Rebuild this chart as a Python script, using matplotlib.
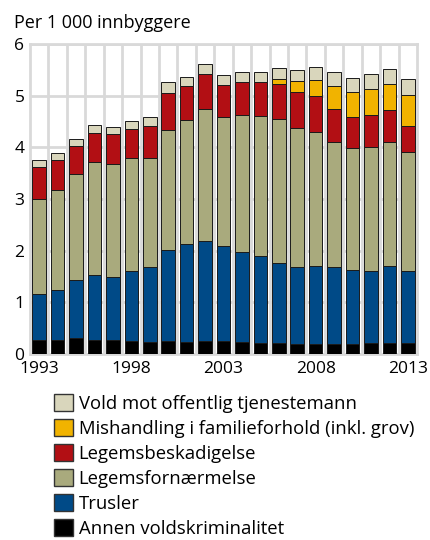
import numpy as np
import matplotlib
matplotlib.use("Agg")
import matplotlib.pyplot as plt
from matplotlib.patches import Patch

plt.rcParams['font.family'] = ['Open Sans', 'DejaVu Sans']

# Data (per 1 000 innbyggere)
years = list(range(1993, 2014))
annen = [0.28, 0.28, 0.31, 0.27, 0.27, 0.25, 0.24, 0.26, 0.24, 0.26, 0.25,
         0.23, 0.21, 0.21, 0.19, 0.20, 0.20, 0.19, 0.21, 0.21, 0.21]
trusler = [0.88, 0.96, 1.12, 1.25, 1.22, 1.35, 1.44, 1.75, 1.89, 1.93, 1.84,
           1.74, 1.69, 1.56, 1.49, 1.51, 1.48, 1.44, 1.40, 1.50, 1.40]
legemsfornaermelse = [1.84, 1.93, 2.06, 2.20, 2.19, 2.19, 2.11, 2.33, 2.39, 2.55, 2.50,
                      2.66, 2.71, 2.77, 2.70, 2.59, 2.43, 2.35, 2.40, 2.40, 2.30]
legemsbeskadigelse = [0.62, 0.58, 0.54, 0.55, 0.57, 0.56, 0.62, 0.72, 0.66, 0.67, 0.62,
                      0.63, 0.65, 0.69, 0.70, 0.69, 0.64, 0.60, 0.61, 0.61, 0.50]
mishandling = [0, 0, 0, 0, 0, 0, 0, 0, 0, 0, 0,
               0, 0, 0.09, 0.20, 0.32, 0.44, 0.50, 0.50, 0.50, 0.60]
vold_tjenestemann = [0.14, 0.15, 0.14, 0.16, 0.15, 0.16, 0.18, 0.20, 0.19, 0.20, 0.19,
                     0.19, 0.19, 0.21, 0.22, 0.24, 0.27, 0.27, 0.30, 0.30, 0.31]

labels = ['Annen voldskriminalitet', 'Trusler', 'Legemsfornærmelse',
          'Legemsbeskadigelse', 'Mishandling i familieforhold (inkl. grov)',
          'Vold mot offentlig tjenestemann']
colors = ['#000000', '#004a87', '#a9aa7d', '#b20f14', '#f1b300', '#d9d6bc']
series = [annen, trusler, legemsfornaermelse, legemsbeskadigelse,
          mishandling, vold_tjenestemann]

fig = plt.figure(figsize=(4.3, 5.4), dpi=100)
ax = fig.add_axes([0.0698, 0.3444, 0.9, 0.5741])

grid_col = '#d9d9d9'
x = np.array(years)
bottom = np.zeros(len(years))
for vals, col in zip(series, colors):
    vals = np.array(vals, dtype=float)
    mask = vals > 0
    ax.bar(x[mask], vals[mask], bottom=bottom[mask], width=0.74, color=col,
           edgecolor='#1a1a1a', linewidth=0.7, zorder=3)
    bottom += vals

ax.set_xlim(1992.5, 2013.5)
ax.set_ylim(0, 6)
ax.set_yticks(range(0, 7))
ax.set_xticks([1993, 1998, 2003, 2008, 2013])
ax.set_xticks(np.arange(1993.5, 2013.5, 1), minor=True)
ax.tick_params(axis='both', which='both', length=0, labelsize=12.5)
ax.tick_params(axis='y', pad=4)
ax.tick_params(axis='x', pad=5)
ax.grid(True, axis='y', which='major', color=grid_col, lw=2, zorder=0)
ax.grid(True, axis='x', which='minor', color=grid_col, lw=2, zorder=0)
for s in ax.spines.values():
    s.set_color(grid_col)
    s.set_linewidth(2)

fig.text(0.033, 0.948, 'Per 1 000 innbyggere', fontsize=13, va='baseline')

handles = [Patch(facecolor=c, edgecolor='#333333', linewidth=1)
           for c in colors][::-1]
fig.legend(handles, labels[::-1], loc='upper left', bbox_to_anchor=(0.125, 0.27),
           frameon=False, fontsize=13.3, handlelength=1.05, handleheight=1.05,
           handletextpad=0.3, labelspacing=0.33, borderpad=0, borderaxespad=0)

fig.savefig('out.png', dpi=100)
